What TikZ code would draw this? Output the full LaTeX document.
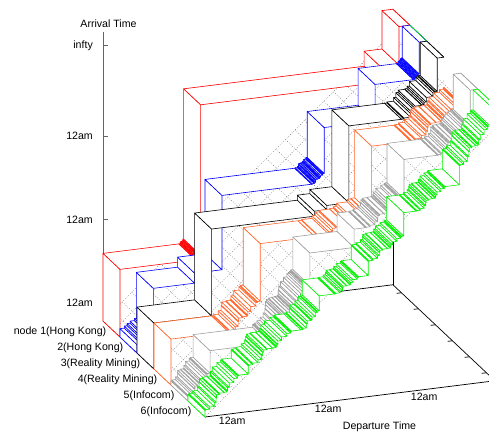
\documentclass[tikz,border=0pt]{standalone}
\usepackage{fontspec}
\setmainfont{Liberation Sans}
\definecolor{nodeorange}{RGB}{255,100,40}
\definecolor{nodegray}{RGB}{160,160,160}
\definecolor{nodegreen}{RGB}{0,240,0}
\definecolor{axisgray}{RGB}{100,100,100}
\definecolor{meshgray}{RGB}{110,110,110}
% one ribbon: colour, back edge, list of t/z/steps
\newcommand\ribbon[3]{%
  \foreach \tb/\zb/\k [remember=\tb as \ta (initially 0), remember=\zb as \za (initially 0)] in {#3}{%
    \foreach \i in {1,...,\k}{%
      \pgfmathsetmacro\ul{(\i-1)/\k}
      \pgfmathsetmacro\ur{\i/\k}
      \pgfmathsetmacro\tl{\ta+(\tb-\ta)*(\ul-0.05*sin(1080*\ul))}
      \pgfmathsetmacro\tr{\ta+(\tb-\ta)*(\ur-0.05*sin(1080*\ur))}
      \pgfmathsetmacro\zl{\za+(\zb-\za)*(\ul-0.07*sin(720*\ul))}
      \pgfmathsetmacro\zr{\za+(\zb-\za)*(\ur-0.07*sin(720*\ur))}
      \filldraw[rib, draw=#1] (\tl,#2,\zl) -- (\tr,#2,\zl) -- (\tr,#2+1,\zl) -- (\tl,#2+1,\zl) -- cycle;
      \filldraw[rib, draw=#1] (\tr,#2,\zl) -- (\tr,#2,\zr) -- (\tr,#2+1,\zr) -- (\tr,#2+1,\zl) -- cycle;
    }
  }
}
\begin{document}
\begin{tikzpicture}[
  x={(96pt,12pt)}, y={(17pt,-16pt)}, z={(0pt,83.5pt)},
  rib/.style={line width=0.6pt, line join=round, fill=white},
  planemesh/.style={meshgray, line width=0.45pt, dash pattern=on 0.7pt off 1.7pt},
  frame/.style={line width=0.7pt},
  every node/.style={font=\fontsize{10.6}{12}\selectfont, inner sep=0pt}
  ]
  \useasboundingbox (0pt,0pt) rectangle (489pt,432pt);
  \node (arrival) at (108.5pt,408pt) {Arrival Time};
  \node (departure) at (379.5pt,5.5pt) {Departure Time};
  \begin{scope}[shift={(103pt,111pt)}]
    \coordinate (A) at (0,0,0);
    \coordinate (B) at (0,6,0);
    \coordinate (C) at (3.02,6,0);
    \coordinate (D) at (3.02,0,0);
    \draw[frame] (A) -- (D) -- (C) -- (B);
    \draw[frame] (D) -- (3.02,0,1);
    \foreach \n in {0.5,1.5,...,5.5}
      \draw[frame] (3.02,\n,0) -- (2.97,\n,0);
    % plane arrival = departure
    \fill[white] (A) -- (3.02,0,3.02) -- (3.02,6,3.02) -- (B) -- cycle;
    \foreach \t in {0,0.1,...,3.01}
      \draw[planemesh] (\t,0,\t) -- (\t,6,\t);
    \foreach \n in {0,0.6,...,6.01}
      \draw[planemesh] (0,\n,0) -- (3.02,\n,3.02);
    \draw[axisgray, line width=0.9pt] (A) -- (0,0,3.46) coordinate (ztop);
    \foreach \zz/\txt [count=\j] in {0.215/12am,1.215/12am,2.215/12am,3.3/infty}{
      \draw[axisgray, line width=0.8pt] (0,0,\zz) -- ++(5pt,0pt);
      \node[anchor=east, xshift=-10pt] (zlab\j) at (0,0,\zz) {\txt};
    }
    \ribbon{red}{0}{0/0.81/1, 0.79/0.81/1, 0.835/0.86/5, 0.84/2.66/1,
      2.72/2.84/1, 2.906/3.3/1, 3.02/3.3/1}
    \ribbon{blue}{1}{0/0.1/1, 0.15/0.2/4, 0.17/0.75/1, 0.6/0.87/1,
      0.885/1.76/1, 1.82/1.76/1, 1.94/1.87/10, 1.95/2.42/1, 2.48/2.86/1,
      2.88/2.86/1, 2.93/2.92/6, 2.94/3.3/1, 3.02/3.3/1}
    \draw[rib, nodegreen] (3.02,1,3.3) -- (3.02,2,3.3);
    \ribbon{black}{2}{0/0.55/1, 0.6/1.59/1, 1.67/1.65/1, 1.8/1.7/1,
      2.03/2.62/1, 2.58/2.62/1, 2.93/2.9/9, 2.95/3.3/1, 3.02/3.3/1}
    \ribbon{nodeorange}{3}{0/0.55/1, 0.6/0.55/1, 0.9/0.87/10, 0.93/1.56/1,
      1.5/1.56/1, 2.05/1.75/9, 2.09/2.56/1, 2.5/2.56/1, 3.02/2.94/16}
    \ribbon{nodegray}{4}{0/0.05/1, 0.2/0.3/10, 0.23/0.57/1, 0.85/0.6/1,
      1.25/1.2/22, 1.27/1.59/1, 1.73/1.81/1, 1.85/1.81/1, 2.23/2.1/14,
      2.25/2.57/1, 2.6/2.57/1, 2.92/2.88/14, 2.94/3.3/1, 3.02/3.3/1}
    \ribbon{nodegreen}{5}{0/0.08/1, 0.35/0.45/13, 0.45/0.55/1, 0.9/0.9/15,
      1.0/0.9/1, 1.17/1.1/7, 1.19/1.28/1, 1.35/1.28/1, 1.6/1.45/10,
      1.7/1.62/1, 2.05/1.87/13, 2.07/2.15/1, 2.2/2.15/1, 2.5/2.4/13,
      2.65/2.63/1, 2.95/3.06/13, 2.97/3.3/1, 3.02/3.3/1}
    \foreach \lab [count=\i] in {node 1(Hong Kong), 2(Hong Kong),
      3(Reality Mining), 4(Reality Mining), 5(Infocom), 6(Infocom)}
      \node[anchor=east, xshift=-5pt, yshift=-2.5pt] (nlab\i) at (0,\i-0.5,0) {\lab};
    \foreach \t [count=\i] in {0.22,1.22,2.22}
      \node[xshift=6pt, yshift=-6.5pt] (tlab\i) at (\t,6,0) {12am};
  \end{scope}
\end{tikzpicture}
\end{document}
